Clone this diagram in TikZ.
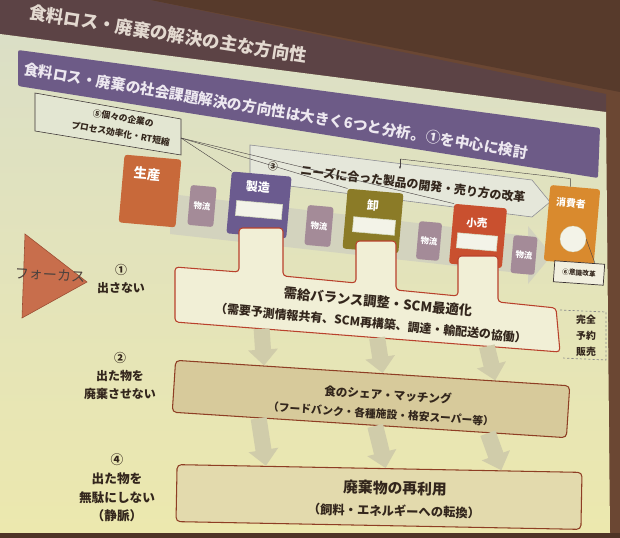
\documentclass[tikz,border=0pt]{standalone}
\usepackage{fontspec}
\setmainfont{Noto Sans CJK JP}
\usetikzlibrary{positioning,arrows.meta,calc}
\definecolor{wall}{HTML}{6B4733}
\definecolor{ceil}{HTML}{573A2B}
\definecolor{proj}{HTML}{5C4345}
\definecolor{scrtop}{HTML}{DBDFC6}
\definecolor{scrbot}{HTML}{ECE8AE}
\definecolor{floor}{HTML}{4E3426}
\definecolor{band}{HTML}{6D5B87}
\definecolor{bandtext}{HTML}{EDE8F0}
\definecolor{titletext}{HTML}{E3D9D0}
\definecolor{ink}{HTML}{33261C}
\definecolor{seisancol}{HTML}{C8693A}
\definecolor{logi}{HTML}{A48B98}
\definecolor{seizocol}{HTML}{6B5B8F}
\definecolor{oroshicol}{HTML}{8B7B27}
\definecolor{kouricol}{HTML}{C9502F}
\definecolor{shohicol}{HTML}{D98A2E}
\definecolor{barfill}{HTML}{F3F3E8}
\definecolor{barline}{HTML}{D5DBC0}
\definecolor{ishikif}{HTML}{F1EFDF}
\definecolor{redline}{HTML}{B9412C}
\definecolor{b1fill}{HTML}{F1EFD6}
\definecolor{b2fill}{HTML}{D7CA9B}
\definecolor{b3fill}{HTML}{E3DAAD}
\definecolor{bigline}{HTML}{8E3E24}
\definecolor{garrow}{HTML}{D0CCAA}
\definecolor{tri}{HTML}{C86E4C}
\definecolor{triline}{HTML}{9A4C32}
\definecolor{focus}{HTML}{4C423E}
\definecolor{note}{HTML}{E3E6D2}
\definecolor{noteline}{HTML}{3C3434}
\definecolor{needf}{HTML}{E5E7DA}
\definecolor{needl}{HTML}{8A8A92}
\definecolor{lineg}{HTML}{4A4444}
\definecolor{dashcol}{HTML}{8A8A8A}
\definecolor{flowbg}{HTML}{D3D3BE}

\begin{document}
\begin{tikzpicture}[x=0.05cm,y=-0.05cm,
  every node/.style={text=ink,inner sep=0pt,font=\bfseries},
  fb/.style={rounded corners=4pt,rotate=-5},
  lg/.style={fb,fill=logi,minimum width=1.3cm,minimum height=2cm,text=white,font=\bfseries\fontsize{12}{13}\selectfont},
  wl/.style={text=white,rotate=-5},
  bar/.style={fill=barfill,draw=barline,line width=0.8pt,minimum height=0.75cm,rotate=-5},
  big/.style={draw=bigline,line width=1.5pt,rounded corners=6pt},
  lbl/.style={align=center,font=\bfseries\fontsize{17}{25.5}\selectfont},
  ga/.style={draw=garrow,line width=0.8cm,-{Triangle[length=0.8cm,width=1.45cm]}},
  thinl/.style={draw=lineg,line width=0.6pt}]
  \useasboundingbox (0,0) rectangle (620,538);
  % wall, screen
  \fill[wall] (0,0) rectangle (620,538);
  \fill[ceil] (150,0) -- (620,0) -- (620,92) -- cycle;
  \fill[proj] (0,0) -- (150,0) -- (606,94) -- (606,112) -- (0,34) -- cycle;
  \shade[top color=scrtop,bottom color=scrbot] (0,34) -- (606,112) -- (610,533) -- (0,533) -- cycle;
  \fill[floor] (0,533) rectangle (620,538);
  % title and band
  \node[rotate=-9,text=titletext,font=\bfseries\fontsize{25}{28}\selectfont] (ttl) at (168,34) {食料ロス・廃棄の解決の主な方向性};
  \fill[band,rounded corners=3pt] (18,50) -- (600,128) -- (598,178) -- (18,86) -- cycle;
  \node[rotate=-9.5,text=bandtext,font=\bfseries\fontsize{21}{23}\selectfont] (sub) at (276,111) {食料ロス・廃棄の社会課題解決の方向性は大きく6つと分析。①を中心に検討};
  % 5: callout
  \filldraw[fill=note,draw=noteline,line width=0.8pt] (35,93) -- (181,119) -- (181,155) -- (35,131) -- cycle;
  \node[align=center,rotate=-10,font=\bfseries\fontsize{12.5}{22}\selectfont] (note5) at (122,126) {⑤個々の企業の\\プロセス効率化・RT短縮};
  \coordinate (c5) at (181,138);
  % 3: needs
  \filldraw[fill=needf,draw=needl,line width=0.8pt] (250,145) -- (532,180) -- (550,202) -- (532,217) -- (250,181) -- cycle;
  \node[rotate=-7,font=\bfseries\fontsize{14}{15}\selectfont] (n3) at (273,166) {③};
  \node[rotate=-7,font=\bfseries\fontsize{17}{18}\selectfont] (needs) at (413,184) {ニーズに合った製品の開発・売り方の改革};
  % flow
  \fill[flowbg] (170,194) -- (528,236) -- (528,226) -- (552,255) -- (528,284) -- (528,274) -- (170,234) -- cycle;
  \node[fb,fill=seisancol,minimum width=2.85cm,minimum height=3.4cm] (seisan) at (150,191) {};
  \node[wl,font=\bfseries\fontsize{19}{20}\selectfont] (seisanT) at (147,174) {生産};
  \node[lg] (logi1) at (202,206) {物流};
  \node[fb,fill=seizocol,minimum width=3cm,minimum height=3.1cm] (seizo) at (259,205) {};
  \node[wl,font=\bfseries\fontsize{17}{18}\selectfont] (seizoT) at (258,187) {製造};
  \node[bar,minimum width=2.3cm] (seizoB) at (259,210) {};
  \node[lg] (logi2) at (319,226) {物流};
  \node[fb,fill=oroshicol,minimum width=2.8cm,minimum height=3cm] (oroshi) at (373,221) {};
  \node[wl,font=\bfseries\fontsize{17}{18}\selectfont] (oroshiT) at (373,205) {卸};
  \node[bar,minimum width=2.1cm] (oroshiB) at (374,226) {};
  \node[lg,minimum width=1.15cm,minimum height=1.9cm] (logi3) at (429,241) {物流};
  \node[fb,fill=kouricol,minimum width=2.65cm,minimum height=3cm] (kouri) at (478,236) {};
  \node[wl,font=\bfseries\fontsize{15}{16}\selectfont] (kouriT) at (477,223) {小売};
  \node[bar,minimum width=2cm] (kouriB) at (477,242) {};
  \node[lg,minimum width=1.2cm,minimum height=1.9cm] (logi4) at (524,255) {物流};
  \node[fb,fill=shohicol,minimum width=2.5cm,minimum height=3.8cm] (shohi) at (572,225) {};
  \node[wl,font=\bfseries\fontsize{14}{15}\selectfont] (shohiT) at (571,203) {消費者};
  \node[circle,fill=barfill,draw=barline,minimum size=1.3cm] (circ) at (573,239) {};
  \node[draw=noteline,line width=1pt,fill=ishikif,minimum width=2.5cm,minimum height=1.05cm,rotate=-4,font=\bfseries\fontsize{9.5}{10}\selectfont] (ishiki) at (579,273) {⑥意識改革};
  \draw[thinl] (circ.east) -- ($(ishiki.north)!.6!(ishiki.north east)$);
  \coordinate (br) at (400,159);
  \draw[thinl] ($(shohi.north west)!.4!(shohi.north east)$) -- ++(0,-8) -- (br);
  \draw[thinl,-{Stealth[length=4pt]}] (br) -- ++(0,10);
  \draw[thinl] (c5) -- (seizo.north west);
  \draw[thinl] (c5) -- (oroshi.north west);
  \draw[thinl] (c5) -- (kouri.north west);
  % 1
  \filldraw[fill=b1fill,draw=redline,line width=1.5pt,rounded corners=5pt] (175,267) -- (239,272) -- (239,228) -- (283,228) -- (283,276) -- (356,283) -- (356,241) -- (396,241) -- (396,290) -- (458,296) -- (458,256) -- (498,256) -- (498,302) -- (556,308) -- (560,352) -- (175,322) -- cycle;
  \coordinate (b1sw) at (175,322); \coordinate (b1se) at (560,352);
  \node[rotate=-5.5,font=\bfseries\fontsize{19}{20}\selectfont] (b1a) at (378,302) {需給バランス調整・SCM最適化};
  \node[rotate=-5.5,font=\bfseries\fontsize{17}{18}\selectfont] (b1b) at (371,323) {（需要予測情報共有、SCM再構築、調達・輸配送の協働）};
  \draw[dashed,draw=dashcol,line width=1pt] (560,310) -- (606,312) -- (606,360) -- (562,358);
  \node[align=center,font=\bfseries\fontsize{14}{22.5}\selectfont] (kanzen) at (586,336) {完全\\予約\\販売};
  % 2, 4
  \node[big,fill=b2fill,rotate=-3.7,minimum width=19.75cm,minimum height=2.6cm] (box2) at (371,399) {};
  \node[rotate=-3.7,font=\bfseries\fontsize{16.5}{17}\selectfont] (b2a) at (388,395) {食のシェア・マッチング};
  \node[rotate=-3.7,font=\bfseries\fontsize{15.3}{16}\selectfont] (b2b) at (381,414) {（フードバンク・各種施設・格安スーパー等）};
  \node[big,fill=b3fill,rotate=-1.1,minimum width=20.25cm,minimum height=2.85cm] (box3) at (379,497) {};
  \node[rotate=-1.2,font=\bfseries\fontsize{21}{22}\selectfont] (b3a) at (395,488) {廃棄物の再利用};
  \node[rotate=-1.2,font=\bfseries\fontsize{17.5}{19}\selectfont] (b3b) at (394,511) {（飼料・エネルギーへの転換）};
  \foreach \p in {0.225,0.525,0.81}
    \draw[ga] ($(b1sw)!\p!(b1se)$) -- ($(box2.north west)!\p!(box2.north east)$);
  \foreach \p in {0.22,0.515,0.80}
    \draw[ga] ($(box2.south west)!\p!(box2.south east)$) -- ($(box3.north west)!\p!(box3.north east)$);
  % focus
  \filldraw[fill=tri,draw=triline,line width=0.8pt] (25,234) -- (87,282) -- (22,318) -- cycle;
  \node[rotate=-3,text=focus,font=\mdseries\fontsize{20}{22}\selectfont] (focus) at (50,275) {フォーカス};
  \node[lbl] (l1) at (121,279) {①\\出さない};
  \node[lbl] (l2) at (120,376) {②\\出た物を\\廃棄させない};
  \node[lbl,font=\bfseries\fontsize{18}{26.5}\selectfont] (l4) at (117,488) {④\\出た物を\\無駄にしない\\（静脈）};
\end{tikzpicture}
\end{document}
